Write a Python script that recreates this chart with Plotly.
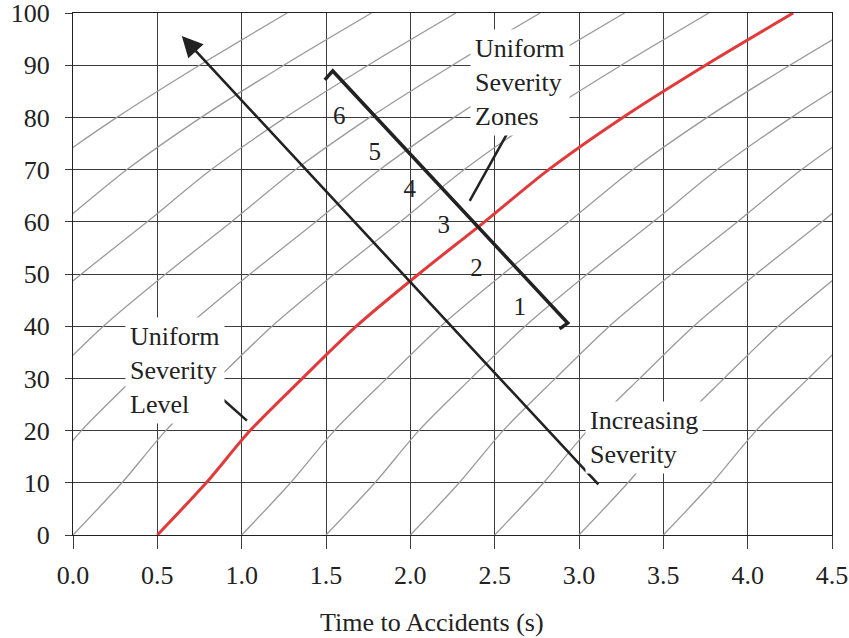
import plotly.graph_objects as go

# Uniform severity level (red curve): time to accident vs. value
level_t = [0.5, 0.79, 1.05, 1.36, 1.68, 2.05, 2.44, 2.82, 3.26, 3.75, 4.27]
level_y = [0, 10, 20, 30, 40, 50, 60, 70, 80, 90, 100]

# Horizontal offsets (s) of the other uniform-severity curves
iso_offsets = [-3.0, -2.5, -2.0, -1.5, -1.0, -0.5, 0.5, 1.0, 1.5, 2.0, 2.5, 3.0]

# Zone bracket and zone labels
bracket_t = [1.493, 1.54, 2.933, 2.885]
bracket_y = [87.2, 88.9, 40.6, 39.5]
zone_labels = ["6", "5", "4", "3", "2", "1"]
zone_t = [1.579, 1.789, 1.996, 2.198, 2.392, 2.648]
zone_y = [79.9, 73.0, 66.0, 59.1, 50.9, 43.3]

x_ticks = [0.0, 0.5, 1.0, 1.5, 2.0, 2.5, 3.0, 3.5, 4.0, 4.5]
y_ticks = [0, 10, 20, 30, 40, 50, 60, 70, 80, 90, 100]

FONT = "Liberation Serif"
TXT = "#222222"

fig = go.Figure()

for off in iso_offsets:
    fig.add_trace(go.Scatter(
        x=[t + off for t in level_t], y=level_y, mode="lines",
        line=dict(color="#9a9a9a", width=1.3, shape="spline", smoothing=0.8),
        hoverinfo="skip", showlegend=False))

fig.add_trace(go.Scatter(
    x=level_t, y=level_y, mode="lines",
    line=dict(color="#e03a3a", width=3, shape="spline", smoothing=0.8),
    hoverinfo="skip", showlegend=False))

fig.add_trace(go.Scatter(
    x=bracket_t, y=bracket_y, mode="lines",
    line=dict(color="#222222", width=3.5), hoverinfo="skip", showlegend=False))

fig.add_trace(go.Scatter(
    x=zone_t, y=zone_y, mode="text", text=zone_labels,
    textfont=dict(family=FONT, size=25, color=TXT),
    hoverinfo="skip", showlegend=False))

# Increasing severity arrow
fig.add_annotation(x=0.645, y=95.6, ax=3.123, ay=9.4, xref="x", yref="y",
                   axref="x", ayref="y", showarrow=True, arrowhead=2,
                   arrowsize=1.6, arrowwidth=2.6, arrowcolor="#222222", text="")

# Leader lines
fig.add_shape(type="line", x0=2.583, y0=77.4, x1=2.352, y1=64.0,
              line=dict(color="#222222", width=2.5))
fig.add_shape(type="line", x0=0.847, y0=27.2, x1=1.031, y1=21.9,
              line=dict(color="#222222", width=2.5))

box = dict(bgcolor="white", borderpad=4, showarrow=False, align="left",
           xanchor="center", yanchor="middle",
           font=dict(family=FONT, size=26, color=TXT))
fig.add_annotation(x=2.648, y=86.7, text="Uniform<br>Severity<br>Zones", **box)
fig.add_annotation(x=0.606, y=31.6, text="Uniform<br>Severity<br>Level", **box)
fig.add_annotation(x=3.383, y=18.6, text="Increasing<br>Severity", **box)

fig.add_annotation(x=0.473, y=-0.167, xref="paper", yref="paper",
                   text="Time to Accidents (s)", showarrow=False,
                   xanchor="center", yanchor="middle",
                   font=dict(family=FONT, size=26, color=TXT))

axis_common = dict(showgrid=True, gridcolor="#3c3c3c", gridwidth=1,
                   showline=True, linecolor="#222222", linewidth=1, mirror=True,
                   ticks="outside", tickcolor="#3c3c3c", zeroline=False,
                   ticklabeloverflow="allow",
                   tickfont=dict(family=FONT, size=26, color=TXT))

fig.update_xaxes(range=[0, 4.5], tickvals=x_ticks,
                 ticktext=[f"{v:.1f}" for v in x_ticks], ticklen=13,
                 ticklabelstandoff=4, **axis_common)
fig.update_yaxes(range=[0, 100], tickvals=y_ticks,
                 ticktext=[str(v) for v in y_ticks], ticklen=7,
                 ticklabelstandoff=10, **axis_common)

fig.update_layout(width=849, height=638,
                  margin=dict(l=73, r=17, t=13, b=103, autoexpand=False),
                  plot_bgcolor="white", paper_bgcolor="white",
                  font=dict(family=FONT, color=TXT), showlegend=False)

fig.write_html("out.html", config={"displayModeBar": False},
               post_script="document.body.style.margin='0';document.body.style.overflow='hidden';")
